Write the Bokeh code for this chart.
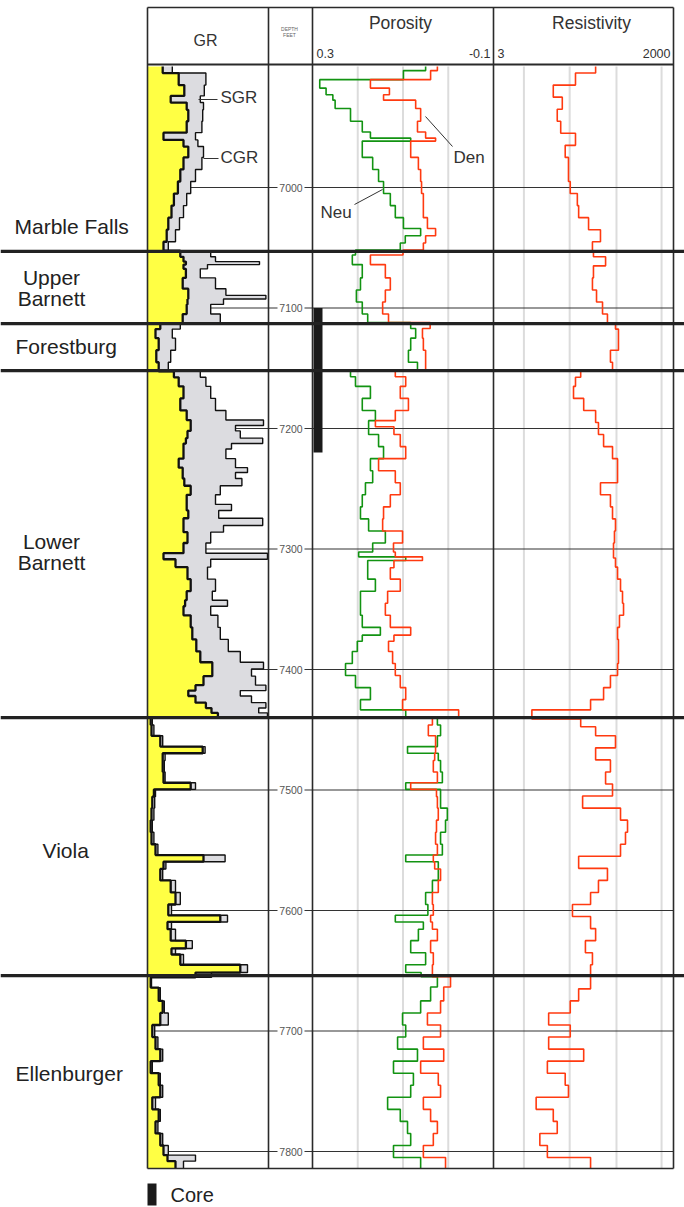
import numpy as np
from bokeh.plotting import figure
from bokeh.models import Range1d, LogScale, Span
from bokeh.embed import file_html
from bokeh.resources import INLINE
from bokeh.core.properties import value

# ------------------------------------------------------------------ data
# Gamma ray (API): depth (ft), computed GR (CGR), spectral GR (SGR)
GR_DEPTH = [6900, 6910, 6920, 6928, 6931, 6940, 6950, 6959, 6962, 6970,
            6980, 6990, 7000, 7010, 7020, 7030, 7040, 7050,
            7055, 7060, 7063, 7065, 7070, 7080, 7088, 7091, 7094, 7100, 7110,
            7115, 7120, 7130, 7140, 7150,
            7155, 7160, 7170, 7180, 7190, 7196, 7199, 7205, 7211, 7214,
            7220, 7230, 7235, 7238, 7245, 7250, 7260, 7266, 7270, 7279, 7282,
            7290, 7300, 7307, 7310, 7320, 7330, 7340, 7345, 7350, 7360, 7370,
            7380, 7390, 7398, 7401, 7410, 7416, 7419, 7425, 7430, 7434, 7438,
            7442, 7450, 7460, 7468, 7471, 7480, 7490, 7498, 7501, 7510,
            7520, 7530, 7540, 7550, 7558, 7561, 7570, 7580, 7590, 7600,
            7608, 7611, 7620, 7630, 7633, 7640, 7650, 7653,
            7658, 7670, 7680, 7690, 7700, 7710, 7720, 7730, 7740, 7750,
            7760, 7770, 7780, 7790, 7800, 7806, 7810]
CGR = [19, 39, 46, 29, 49, 51, 49, 20, 45, 51,
       45, 41, 38, 33, 30, 26, 24, 20,
       41, 45, 48, 45, 48, 44, 51, 51, 50, 49, 44,
       16, 10, 14, 11, 14,
       33, 39, 45, 41, 49, 54, 54, 50, 48, 45,
       45, 39, 44, 44, 46, 54, 49, 49, 51, 45, 45,
       50, 45, 20, 35, 50, 54, 49, 47, 45, 54, 56,
       61, 66, 81, 81, 70, 60, 51, 60, 73, 80, 88,
       4, 5, 16, 69, 19, 19, 20, 54, 8, 6,
       5, 4, 5, 10, 70, 20, 16, 29, 35, 26,
       91, 25, 29, 48, 30, 41, 116, 60,
       4, 14, 19, 16, 6, 10, 16, 4, 14, 16,
       6, 14, 10, 16, 20, 25, 35]
SGR = [31, 73, 71, 66, 70, 69, 68, 60, 63, 70,
       68, 60, 54, 49, 45, 40, 35, 26,
       79, 85, 140, 75, 66, 85, 98, 148, 95, 79, 91,
       41, 31, 35, 29, 26,
       66, 73, 79, 85, 98, 145, 110, 116, 144, 105,
       98, 110, 125, 110, 118, 91, 85, 105, 89, 144, 95,
       79, 73, 150, 79, 75, 85, 81, 100, 79, 88, 91,
       101, 116, 145, 130, 135, 148, 116, 130, 148, 139, 150,
       6, 8, 19, 72, 22, 21, 22, 60, 10, 9,
       8, 6, 8, 13, 97, 23, 19, 35, 41, 30,
       100, 30, 35, 56, 35, 45, 125, 80,
       5, 16, 21, 26, 9, 13, 19, 6, 16, 19,
       10, 16, 13, 19, 26, 60, 45]

# Porosity (v/v): neutron (Neu) and density (Den)
POR_DEPTH = [6900, 6906, 6915, 6920, 6926, 6929, 6940, 6950, 6958, 6960,
             6963, 6970, 6980, 6990, 7000, 7010, 7020, 7030, 7038, 7042, 7050,
             7054, 7058, 7070, 7080, 7090, 7100, 7110,
             7114, 7120, 7130, 7140, 7150,
             7154, 7160, 7170, 7180, 7190, 7197, 7200, 7210, 7220, 7230,
             7240, 7250, 7260, 7270, 7280, 7290, 7300, 7305, 7308, 7311,
             7320, 7330, 7340, 7350, 7360, 7370, 7373, 7380, 7390, 7400,
             7410, 7420, 7430, 7437,
             7442, 7450, 7460, 7468, 7471, 7480, 7490, 7498, 7501, 7510,
             7520, 7530, 7540, 7550, 7558, 7561, 7570, 7580, 7590, 7600,
             7608, 7611, 7620, 7630, 7640, 7650, 7653,
             7657, 7670, 7680, 7690, 7700, 7710, 7720, 7730, 7740, 7750,
             7760, 7770, 7780, 7790, 7800, 7810]
NEU = [0.050, 0.099, 0.284, 0.270, 0.255, 0.250, 0.216, 0.190, 0.172, 0.083,
       0.190, 0.190, 0.167, 0.154, 0.143, 0.128, 0.117, 0.099, 0.061, 0.095, 0.106,
       0.205, 0.212, 0.190, 0.194, 0.203, 0.190, 0.178,
       0.083, 0.072, 0.083, 0.088, 0.068,
       0.216, 0.205, 0.172, 0.190, 0.161, 0.176, 0.176, 0.154, 0.143, 0.172,
       0.167, 0.183, 0.190, 0.194, 0.176, 0.139, 0.167, 0.198, 0.094, 0.178,
       0.178, 0.161, 0.194, 0.194, 0.190, 0.150, 0.190, 0.201, 0.212, 0.227,
       0.205, 0.172, 0.194, 0.094,
       0.024, 0.017, 0.024, 0.090, 0.022, 0.017, 0.013, 0.094, 0.017, 0.017,
       0.002, 0.006, 0.017, 0.013, 0.094, 0.022, 0.022, 0.035, 0.050, 0.045,
       0.117, 0.055, 0.066, 0.083, 0.050, 0.094, 0.060,
       0.024, 0.039, 0.061, 0.101, 0.094, 0.112, 0.068, 0.121, 0.077, 0.083,
       0.134, 0.106, 0.090, 0.083, 0.121, 0.061]
DEN = [0.024, 0.039, 0.172, 0.130, 0.143, 0.072, 0.061, 0.068, 0.050, 0.028,
       0.083, 0.083, 0.066, 0.061, 0.059, 0.055, 0.055, 0.046, 0.028, 0.050, 0.055,
       0.100, 0.172, 0.139, 0.128, 0.139, 0.145, 0.132,
       0.040, 0.057, 0.055, 0.050, 0.050,
       0.117, 0.094, 0.106, 0.088, 0.117, 0.161, 0.120, 0.106, 0.094, 0.154,
       0.117, 0.106, 0.128, 0.143, 0.145, 0.101, 0.121, 0.117, 0.057, 0.120,
       0.128, 0.106, 0.134, 0.139, 0.128, 0.083, 0.120, 0.132, 0.123, 0.117,
       0.106, 0.094, 0.101, -0.023,
       0.035, 0.044, 0.028, 0.028, 0.030, 0.033, 0.024, 0.083, 0.026, 0.024,
       0.022, 0.026, 0.028, 0.024, 0.033, 0.030, 0.017, 0.022, 0.035, 0.033,
       0.039, 0.035, 0.024, 0.039, 0.033, 0.035, 0.035,
       -0.005, 0.010, 0.017, 0.046, 0.017, 0.055, 0.010, 0.061, 0.022, 0.017,
       0.055, 0.039, 0.024, 0.033, 0.055, 0.006]

# Resistivity (ohm-m)
RES_DEPTH = [6900, 6910, 6920, 6930, 6940, 6950, 6960, 6970, 6980, 6990,
             7000, 7010, 7020, 7030, 7040, 7050,
             7055, 7060, 7070, 7080, 7090, 7100, 7110,
             7115, 7120, 7130, 7140, 7150,
             7155, 7160, 7170, 7180, 7190, 7200, 7210, 7220, 7230, 7240,
             7250, 7260, 7270, 7280, 7290, 7300, 7305, 7310, 7320, 7330,
             7340, 7350, 7360, 7370, 7380, 7390, 7400, 7410, 7420, 7430, 7437,
             7445, 7450, 7460, 7470, 7480, 7490, 7500, 7510, 7520, 7530,
             7540, 7550, 7560, 7570, 7580, 7590, 7600, 7610, 7620, 7630,
             7640, 7650,
             7660, 7670, 7680, 7690, 7700, 7710, 7720, 7730, 7740, 7750,
             7760, 7770, 7780, 7790, 7800, 7810]
RES = [120, 58, 26, 36, 30, 34, 58, 40, 45, 45,
       48, 62, 65, 93, 143, 107,
       111, 172, 111, 107, 124, 154, 184,
       246, 274, 274, 205, 221,
       70, 58, 54, 78, 120, 133, 160, 221, 265, 265,
       143, 205, 221, 246, 237, 229, 229, 246, 265, 295,
       317, 329, 284, 265, 274, 274, 265, 205, 160, 100, 12,
       70, 120, 246, 120, 205, 172, 221, 75, 295, 380,
       353, 295, 65, 184, 133, 100, 52, 100, 120, 83,
       107, 100,
       100, 65, 48, 22, 48, 22, 78, 21, 40, 45,
       14, 26, 30, 16, 21, 100]

FORMATIONS = ["Marble Falls", "Upper\nBarnett", "Forestburg",
              "Lower\nBarnett", "Viola", "Ellenburger"]
FORMATION_BOUNDARIES = [7053, 7113, 7152, 7440, 7654]
DEPTH_TICKS = [7000, 7100, 7200, 7300, 7400, 7500, 7600, 7700, 7800]
CORE_INTERVAL = (7100, 7220)
GR_SCALE = (0, 150)
POR_SCALE = (0.3, -0.1)
RES_SCALE = (3, 2000)
POR_GRID = [0.2, 0.1, 0.0]
RES_GRID = [9, 47, 255, 1300]

# ------------------------------------------------------------------ layout (page pixels)
W, H = 684, 1206
PX0, PX1 = 0, W
PY0, PY1 = 0, H
GR_X = (147, 267)
POR_X = (312, 493)
RES_X = (493, 673)
TRACK_EDGES = [147, 268, 312, 493, 673]
HEAD_TOP, HEAD_BOT = 7, 64
LOG_TOP, LOG_BOT = 65, 1168
Y_REF, D_REF, PX_PER_FT = 187.0, 7000.0, 1.205
FONT = value("Liberation Sans")


def px_to_depth(y):
    return D_REF + (y - Y_REF) / PX_PER_FT


def lin_range(a, b, va, vb):
    k = (vb - va) / (b - a)
    return Range1d(va + (PX0 - a) * k, va + (PX1 - a) * k)


def log_range(a, b, va, vb):
    la, lb = np.log10(va), np.log10(vb)
    k = (lb - la) / (b - a)
    return Range1d(10 ** (la + (PX0 - a) * k), 10 ** (la + (PX1 - a) * k))


D_TOP = px_to_depth(LOG_TOP + 1)
D_BOT = px_to_depth(LOG_BOT)


def stairs(depth, vals):
    d = np.asarray(depth, float)
    mids = (d[:-1] + d[1:]) / 2.0
    edges = np.concatenate([[D_TOP], mids, [D_BOT]])
    ys = np.repeat(edges, 2)[1:-1]
    xs = np.repeat(np.asarray(vals, float), 2)
    return xs, ys


p = figure(width=W, height=H, x_range=Range1d(PX0, PX1),
           y_range=Range1d(PY1, PY0), output_backend="svg",
           toolbar_location=None, min_border=0,
           x_axis_type=None, y_axis_type=None)
p.grid.visible = False
p.outline_line_color = None
p.background_fill_color = "white"
p.border_fill_color = "white"
p.extra_y_ranges = {"depth": Range1d(px_to_depth(PY1), px_to_depth(PY0))}
p.extra_x_ranges = {"gr": lin_range(*GR_X, *GR_SCALE),
                    "por": lin_range(*POR_X, *POR_SCALE),
                    "res": log_range(*RES_X, *RES_SCALE)}
p.extra_x_scales = {"res": LogScale()}

# grid lines in porosity / resistivity tracks
p.segment(x0=POR_GRID, x1=POR_GRID, y0=[D_TOP] * 3, y1=[D_BOT] * 3,
          x_range_name="por", y_range_name="depth",
          line_color="#dcdcdc", line_width=2)
p.segment(x0=RES_GRID, x1=RES_GRID, y0=[D_TOP] * 4, y1=[D_BOT] * 4,
          x_range_name="res", y_range_name="depth",
          line_color="#dcdcdc", line_width=2)

# depth lines (broken around the label in depth track)
n = len(DEPTH_TICKS)
p.segment(x0=[TRACK_EDGES[0]] * n, x1=[277] * n, y0=DEPTH_TICKS, y1=DEPTH_TICKS,
          y_range_name="depth", line_color="#333333", line_width=1.2)
p.segment(x0=[304] * n, x1=[TRACK_EDGES[-1]] * n, y0=DEPTH_TICKS, y1=DEPTH_TICKS,
          y_range_name="depth", line_color="#333333", line_width=1.2)
p.text(x=[290.5] * n, y=DEPTH_TICKS, text=[str(t) for t in DEPTH_TICKS],
       y_range_name="depth", text_font=FONT, text_font_size="10.5px",
       text_color="#555555", text_align="center", text_baseline="middle")

# GR track
cx, gys = stairs(GR_DEPTH, CGR)
sx, _ = stairs(GR_DEPTH, SGR)
p.harea(x1=np.zeros_like(cx), x2=cx, y=gys, x_range_name="gr", y_range_name="depth",
        fill_color="#ffff44")
p.harea(x1=cx, x2=np.maximum(sx, cx), y=gys, x_range_name="gr",
        y_range_name="depth", fill_color="#dcdce0")
p.line(sx, gys, x_range_name="gr", y_range_name="depth", line_color="#111111",
       line_width=1.4)
p.line(cx, gys, x_range_name="gr", y_range_name="depth", line_color="#111111",
       line_width=2.3)

# porosity track
nx, pys = stairs(POR_DEPTH, NEU)
dx, _ = stairs(POR_DEPTH, DEN)
p.line(nx, pys, x_range_name="por", y_range_name="depth", line_color="#129312",
       line_width=1.6)
p.line(dx, pys, x_range_name="por", y_range_name="depth", line_color="#ff3a10",
       line_width=1.6)

# resistivity track
rx, rys = stairs(RES_DEPTH, RES)
p.line(rx, rys, x_range_name="res", y_range_name="depth", line_color="#ff3a10",
       line_width=1.6)

# core bar
p.quad(left=[313], right=[322], top=[CORE_INTERVAL[0]], bottom=[CORE_INTERVAL[1]],
       y_range_name="depth", fill_color="#1a1a1a", line_color=None)

# track borders and header
p.segment(x0=TRACK_EDGES, x1=TRACK_EDGES, y0=[HEAD_TOP] * 5, y1=[LOG_BOT] * 5,
          line_color="#2a2a2a", line_width=1.6)
p.segment(x0=[TRACK_EDGES[0]] * 3, x1=[TRACK_EDGES[-1]] * 3,
          y0=[HEAD_TOP, HEAD_BOT, LOG_BOT], y1=[HEAD_TOP, HEAD_BOT, LOG_BOT],
          line_color="#2a2a2a", line_width=[1.6, 2.2, 1.6])

# formation boundaries
for b in FORMATION_BOUNDARIES:
    p.add_layout(Span(location=b, dimension="width", y_range_name="depth",
                      line_color="#222222", line_width=3.2))

# header texts
p.text(x=[205], y=[40], text=["GR"],
       text_font=FONT, text_font_size="16px", text_color="#333333",
       text_align="center", text_baseline="middle")
p.text(x=[400, 591], y=[22, 22], text=["Porosity", "Resistivity"],
       text_font=FONT, text_font_size="17.5px", text_color="#333333",
       text_align="center", text_baseline="middle")
p.text(x=[316, 497], y=[53, 53], text=["0.3", "3"], text_font=FONT,
       text_font_size="12.5px", text_color="#333333", text_align="left",
       text_baseline="middle")
p.text(x=[490, 670], y=[53, 53], text=["-0.1", "2000"], text_font=FONT,
       text_font_size="12.5px", text_color="#333333", text_align="right",
       text_baseline="middle")
p.text(x=[289, 289], y=[28, 34], text=["DEPTH", "FEET"], text_font=FONT,
       text_font_size="5px", text_color="#666666", text_align="center",
       text_baseline="middle")

# curve annotations
p.segment(x0=[198, 203, 425, 382], y0=[99, 158, 116, 189],
          x1=[217, 218, 452, 354], y1=[99, 158, 146, 204],
          line_color="#333333", line_width=1)
p.text(x=[220, 220, 453, 320], y=[97, 157, 157, 212],
       text=["SGR", "CGR", "Den", "Neu"], text_font=FONT, text_font_size="17px",
       text_color="#333333", text_align="left", text_baseline="middle")

# formation names
lab_x = [14, 51, 15, 51, 42, 15]
lab_y = [226, 287.5, 346, 551, 850, 1073]
lab_align = ["left", "center", "left", "center", "left", "left"]
for name, x, y, al in zip(FORMATIONS, lab_x, lab_y, lab_align):
    lines = name.split("\n")
    ys_ = [y] if len(lines) == 1 else [y - 10.5, y + 10.5]
    p.text(x=[x] * len(lines), y=ys_, text=lines, text_font=FONT,
           text_font_size="21px", text_color="#222222", text_align=al,
           text_baseline="middle")

# core legend
p.quad(left=[147], right=[156], top=[1183], bottom=[1205], fill_color="#1a1a1a",
       line_color=None)
p.text(x=[170], y=[1194], text=["Core"], text_font=FONT, text_font_size="20px",
       text_color="#222222", text_align="left", text_baseline="middle")

open("out.html", "w").write(file_html(p, INLINE))
